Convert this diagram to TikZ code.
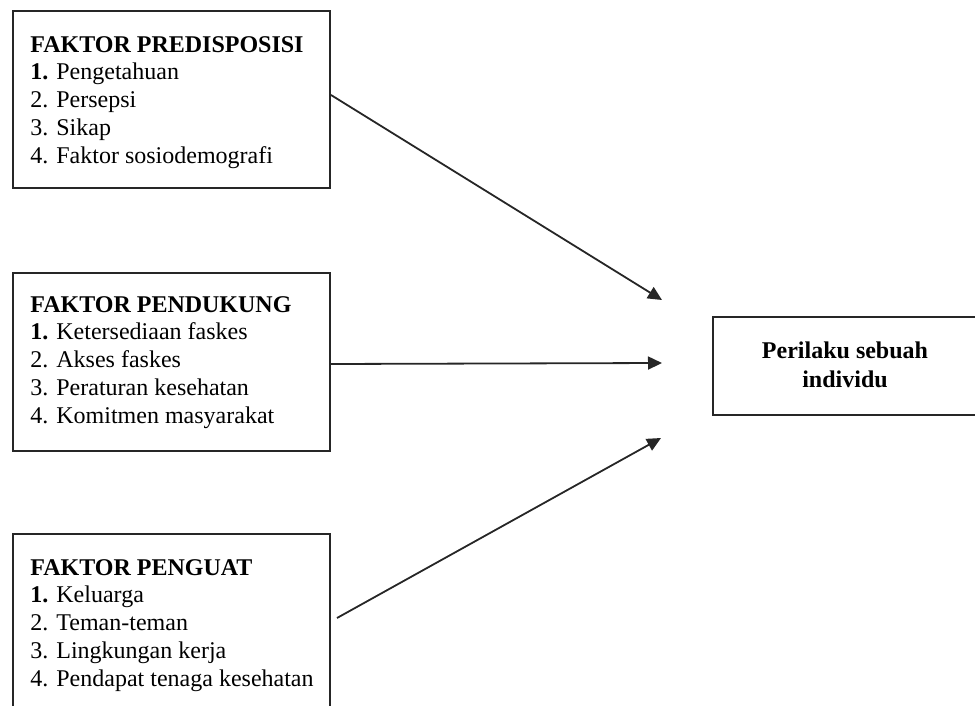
\documentclass[tikz,border=0pt]{standalone}
\usepackage{fontspec}
\setmainfont{Liberation Serif}
\usetikzlibrary{arrows.meta}
\begin{document}
\begin{tikzpicture}[x=0.5pt,y=-0.5pt,
  box/.style={draw=black!85,line width=1pt,rectangle,inner sep=0pt,anchor=north west},
  list/.style={anchor=base west,align=left,inner sep=0pt,font=\fontsize{12}{13.85}\selectfont},
  conn/.style={draw=black!85,line width=0.9pt,-{Triangle[length=7pt,width=6.5pt]}}]
\useasboundingbox (0,0) rectangle (975,706);
\clip (0,0) rectangle (975,706);
\node[box,minimum width=158.5pt,minimum height=88.5pt] (b1) at (12,10) {};
\node[box,minimum width=158.5pt,minimum height=89pt] (b2) at (12,272) {};
\node[box,minimum width=158.5pt,minimum height=89pt] (b3) at (12,533) {};
\node[box,minimum width=133pt,minimum height=49pt] (out) at (712,316) {};
\node[list] (t1) at (30,163) {\textbf{FAKTOR PREDISPOSISI}\\\textbf{1.} Pengetahuan\\2. Persepsi\\3. Sikap\\4. Faktor sosiodemografi};
\node[list] (t2) at (30,423) {\textbf{FAKTOR PENDUKUNG}\\\textbf{1.} Ketersediaan faskes\\2. Akses faskes\\3. Peraturan kesehatan\\4. Komitmen masyarakat};
\node[list] (t3) at (30,686) {\textbf{FAKTOR PENGUAT}\\\textbf{1.} Keluarga\\2. Teman-teman\\3. Lingkungan kerja\\4. Pendapat tenaga kesehatan};
\node[anchor=base,align=center,inner sep=0pt,font=\fontsize{12}{14.5}\selectfont\bfseries] (tout) at (845,387) {Perilaku sebuah\\individu};
\coordinate (e1) at (662,300);
\coordinate (e2) at (662,363);
\coordinate (e3) at (661,438);
\draw[conn] ([yshift=2.25pt]b1.east) -- (e1);
\draw[conn] ([yshift=-1pt]b2.east) -- (e2);
\draw[conn] ([xshift=3pt,yshift=2.5pt]b3.east) -- (e3);
\end{tikzpicture}
\end{document}
